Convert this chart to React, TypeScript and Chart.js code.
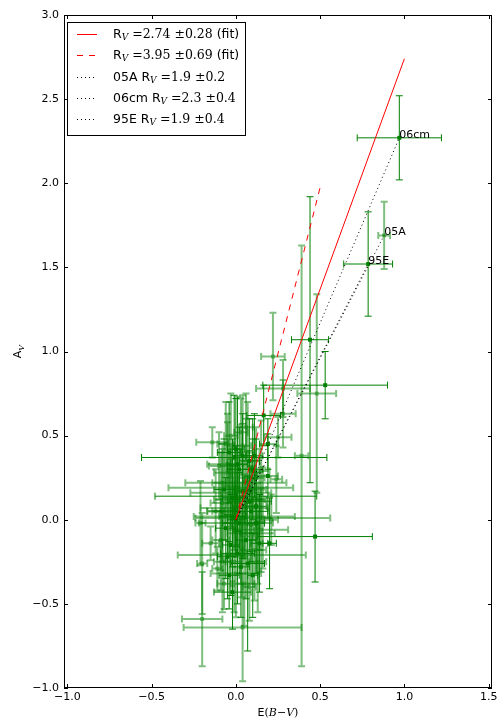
import React, { useEffect, useRef } from "react";
import { Chart, registerables } from "chart.js";
Chart.register(...registerables);

// ---- axis setup ----
const xTickValues = [-1.0, -0.5, 0.0, 0.5, 1.0, 1.5];
const yTickValues = [-1.0, -0.5, 0.0, 0.5, 1.0, 1.5, 2.0, 2.5, 3.0];
const xMin = -1.02;
const xMax = 1.52;
const yMin = -1.0;
const yMax = 3.0;

// ---- named supernovae ----
const snNames = ["06cm", "05A", "95E"];
const snEbv = [0.97, 0.88, 0.785];
const snAv = [2.27, 1.69, 1.52];
const snEbvErr = [0.25, 0.035, 0.145];
const snAvErr = [0.25, 0.2, 0.31];
const snFaded = [0, 1, 0];
const snRvText = ["2.3", "1.9", "1.9"];
const snRvErrText = ["0.4", "0.2", "0.4"];

// ---- sample: E(B-V), A_V and their errors ----
const ebv = [
  0.44, 0.22, 0.53, 0.48, 0.28, 0.39, 0.165, 0.28, 0.25, 0.19,
  -0.14, -0.01, 0.04, 0.04, 0.24, 0.19, 0.15, 0.0, -0.03, 0.0,
  -0.03, -0.08, -0.02, 0.08, 0.05, 0.16, 0.47, 0.2, -0.15, -0.21,
  0.0, 0.21, -0.2, -0.11, -0.08, 0.07, 0.0, -0.02, -0.2, 0.04,
  0.035, 0.15, 0.14, -0.05, -0.04, 0.02, 0.06, 0.1, 0.12, -0.06,
  0.03, 0.09, 0.11, -0.03, 0.05, -0.07, 0.1, -0.01, 0.03, 0.0,
  -0.05, 0.08, 0.13, -0.09, 0.01,
  -0.06, -0.04, 0.01, 0.07, 0.1, -0.08, -0.02, 0.04, 0.12, -0.1,
  0.02, 0.06, -0.09, -0.05, 0.12, 0.13, 0.03, -0.12, 0.09, -0.03,
  0.0, 0.05, -0.01, 0.08, -0.04, 0.14, 0.11, -0.07, 0.06, 0.02,
];
const av = [
  1.07, 0.97, 0.8, 0.75, 0.78, 0.38, 0.62, 0.63, 0.49, 0.45,
  0.46, 0.37, 0.44, 0.38, 0.24, 0.26, 0.29, 0.14, 0.19, 0.22,
  0.16, 0.22, 0.13, 0.11, 0.02, 0.01, -0.1, -0.14, -0.14, -0.02,
  0.0, 0.0, -0.26, -0.29, -0.25, -0.26, -0.32, -0.43, -0.59, -0.64,
  -0.21, -0.06, -0.14, 0.28, 0.05, 0.3, 0.25, 0.18, 0.08, -0.05,
  -0.08, -0.03, -0.18, -0.15, -0.38, -0.38, -0.33, 0.07, 0.52, -0.02,
  0.33, 0.35, -0.08, 0.05, -0.2,
  0.45, 0.4, 0.33, 0.4, 0.3, 0.1, 0.02, 0.17, 0.25, 0.32,
  -0.02, -0.12, -0.12, -0.22, -0.02, -0.25, -0.28, 0.05, 0.05, 0.5,
  0.42, 0.08, -0.25, -0.4, -0.33, 0.12, 0.38, 0.18, 0.55, 0.12,
];
const ebvErr = [
  0.11, 0.07, 0.37, 0.115, 0.16, 0.04, 0.1, 0.075, 0.08, 0.05,
  0.095, 0.55, 0.05, 0.06, 0.035, 0.06, 0.05, 0.48, 0.37, 0.3,
  0.24, 0.06, 0.06, 0.13, 0.3, 0.4, 0.34, 0.04, 0.05, 0.03,
  0.05, 0.04, 0.03, 0.03, 0.05, 0.1, 0.15, 0.11, 0.12, 0.35,
  0.38, 0.16, 0.05, 0.08, 0.1, 0.07, 0.05, 0.08, 0.06, 0.06,
  0.08, 0.05, 0.07, 0.05, 0.06, 0.04, 0.03, 0.2, 0.04, 0.22,
  0.12, 0.06, 0.1, 0.08, 0.1,
  0.05, 0.07, 0.06, 0.04, 0.06, 0.07, 0.08, 0.05, 0.05, 0.06,
  0.1, 0.06, 0.05, 0.06, 0.05, 0.05, 0.05, 0.05, 0.1, 0.04,
  0.05, 0.07, 0.05, 0.04, 0.06, 0.04, 0.05, 0.06, 0.04, 0.15,
];
const avErr = [
  0.85, 0.26, 0.2, 0.59, 0.17, 1.25, 0.18, 0.2, 0.12, 0.15,
  0.09, 0.37, 0.3, 0.25, 0.2, 0.25, 0.3, 0.3, 0.25, 0.2,
  0.2, 0.2, 0.35, 0.3, 0.25, 0.3, 0.27, 0.27, 0.1, 0.25,
  0.2, 0.15, 0.3, 0.13, 0.3, 0.52, 0.26, 0.22, 0.28, 0.32,
  0.25, 0.25, 0.29, 0.3, 0.25, 0.25, 0.35, 0.3, 0.4, 0.3,
  0.3, 0.35, 0.3, 0.3, 0.25, 0.15, 0.25, 0.25, 0.2, 0.2,
  0.3, 0.25, 0.3, 0.35, 0.3,
  0.25, 0.3, 0.4, 0.3, 0.3, 0.35, 0.3, 0.4, 0.3, 0.2,
  0.3, 0.35, 0.3, 0.25, 0.3, 0.3, 0.3, 0.25, 0.3, 0.25,
  0.3, 0.3, 0.3, 0.2, 0.2, 0.3, 0.25, 0.3, 0.2, 0.3,
];
const faded = [
  0, 1, 0, 1, 1, 1, 0, 1, 1, 0,
  1, 0, 1, 0, 1, 0, 1, 0, 1, 1,
  1, 1, 0, 0, 1, 1, 0, 0, 1, 1,
  0, 1, 1, 1, 1, 0, 1, 0, 1, 1,
  1, 1, 0, 1, 1, 0, 1, 1, 0, 0,
  1, 1, 1, 0, 1, 1, 0, 1, 1, 1,
  1, 0, 1, 1, 0,
  1, 0, 0, 1, 0, 1, 0, 0, 1, 1,
  0, 0, 1, 0, 0, 1, 0, 1, 0, 1,
  0, 1, 1, 1, 0, 1, 0, 0, 1, 1,
];

// ---- fit lines (endpoints) ----
const fitSolidX = [0.0, 1.0];
const fitSolidY = [0.0, 2.74];
const fitDashX = [0.0, 0.5];
const fitDashY = [0.0, 1.975];

const GREEN = "rgb(0,128,0)";
const GREEN_FADED = "rgba(0,128,0,0.5)";
const SANS = "'DejaVu Sans'";
const SERIF = "'DejaVu Serif'";

const fmt = (v: number) => (Math.abs(v) < 1e-9 ? "0.0" : v.toFixed(1).replace("-", "\u2212"));

type Seg = { t: string; f: string; dy?: number };
function drawSegs(ctx: CanvasRenderingContext2D, x: number, y: number, segs: Seg[]) {
  let cx = x;
  for (const s of segs) {
    ctx.font = s.f;
    ctx.fillText(s.t, cx, y + (s.dy || 0));
    cx += ctx.measureText(s.t).width;
  }
  return cx;
}
function segsWidth(ctx: CanvasRenderingContext2D, segs: Seg[]) {
  let w = 0;
  for (const s of segs) {
    ctx.font = s.f;
    w += ctx.measureText(s.t).width;
  }
  return w;
}

const LF = 12.5;
const rvSegs = (val: string, err: string): Seg[] => [
  { t: "R", f: `${LF}px ${SANS}` },
  { t: "V", f: `italic 9px ${SERIF}`, dy: 3 },
  { t: " =", f: `${LF}px ${SERIF}` },
  { t: val, f: `${LF}px ${SERIF}` },
  { t: " \u00b1", f: `${LF}px ${SERIF}` },
  { t: err, f: `${LF}px ${SERIF}` },
];

const errorBarPlugin = {
  id: "errbars",
  beforeDatasetsDraw(chart: any) {
    const { ctx, chartArea: a, scales } = chart;
    const xs = scales.x;
    const ys = scales.y;
    ctx.save();
    ctx.beginPath();
    ctx.rect(a.left, a.top, a.right - a.left, a.bottom - a.top);
    ctx.clip();
    const cap = 3.5;
    const drawSet = (X: number[], Y: number[], XE: number[], YE: number[], F: number[]) => {
      for (let i = 0; i < X.length; i++) {
        const px = xs.getPixelForValue(X[i]);
        const py = ys.getPixelForValue(Y[i]);
        const x0 = xs.getPixelForValue(X[i] - XE[i]);
        const x1 = xs.getPixelForValue(X[i] + XE[i]);
        const y0 = ys.getPixelForValue(Y[i] - YE[i]);
        const y1 = ys.getPixelForValue(Y[i] + YE[i]);
        ctx.strokeStyle = F[i] ? GREEN_FADED : GREEN;
        ctx.lineWidth = F[i] ? 2 : 1;
        ctx.beginPath();
        ctx.moveTo(x0, py);
        ctx.lineTo(x1, py);
        ctx.moveTo(px, y0);
        ctx.lineTo(px, y1);
        ctx.moveTo(x0, py - cap);
        ctx.lineTo(x0, py + cap);
        ctx.moveTo(x1, py - cap);
        ctx.lineTo(x1, py + cap);
        ctx.moveTo(px - cap, y0);
        ctx.lineTo(px + cap, y0);
        ctx.moveTo(px - cap, y1);
        ctx.lineTo(px + cap, y1);
        ctx.stroke();
      }
    };
    drawSet(ebv, av, ebvErr, avErr, faded);
    drawSet(snEbv, snAv, snEbvErr, snAvErr, snFaded);
    ctx.restore();
  },
  afterDraw(chart: any) {
    const { ctx, chartArea: a, scales } = chart;
    const xs = scales.x;
    const ys = scales.y;
    ctx.save();
    // SN labels
    ctx.fillStyle = "#000";
    ctx.textBaseline = "alphabetic";
    ctx.textAlign = "left";
    ctx.font = `11px ${SANS}`;
    for (let i = 0; i < snNames.length; i++) {
      ctx.fillText(snNames[i], xs.getPixelForValue(snEbv[i]), ys.getPixelForValue(snAv[i]));
    }
    // frame
    ctx.strokeStyle = "#000";
    ctx.lineWidth = 1;
    ctx.strokeRect(a.left + 0.5, a.top + 0.5, a.right - a.left - 1, a.bottom - a.top - 1);
    // inward ticks
    ctx.beginPath();
    for (const t of xs.ticks) {
      const px = Math.round(xs.getPixelForValue(t.value)) + 0.5;
      ctx.moveTo(px, a.bottom);
      ctx.lineTo(px, a.bottom - 4);
      ctx.moveTo(px, a.top);
      ctx.lineTo(px, a.top + 4);
    }
    for (const t of ys.ticks) {
      const py = Math.round(ys.getPixelForValue(t.value)) + 0.5;
      ctx.moveTo(a.left, py);
      ctx.lineTo(a.left + 4, py);
      ctx.moveTo(a.right, py);
      ctx.lineTo(a.right - 4, py);
    }
    ctx.stroke();

    // axis titles
    ctx.fillStyle = "#000";
    ctx.textBaseline = "alphabetic";
    const xt: Seg[] = [
      { t: "E", f: `11px ${SANS}` },
      { t: "(", f: `11px ${SERIF}` },
      { t: "B", f: `italic 11px ${SERIF}` },
      { t: "\u2212", f: `11px ${SERIF}` },
      { t: "V", f: `italic 11px ${SERIF}` },
      { t: ")", f: `11px ${SERIF}` },
    ];
    const xw = segsWidth(ctx, xt);
    drawSegs(ctx, (a.left + a.right) / 2 - xw / 2, 716, xt);
    const yt: Seg[] = [
      { t: "A", f: `11px ${SANS}` },
      { t: "V", f: `italic 8px ${SERIF}`, dy: 3 },
    ];
    const yw = segsWidth(ctx, yt);
    ctx.save();
    ctx.translate(21, (a.top + a.bottom) / 2);
    ctx.rotate(-Math.PI / 2);
    drawSegs(ctx, -yw / 2, 0, yt);
    ctx.restore();

    // legend
    const lx = 67.5, ly = 22.5, lw = 178, lh = 113;
    ctx.fillStyle = "#fff";
    ctx.fillRect(lx, ly, lw, lh);
    ctx.strokeStyle = "#000";
    ctx.lineWidth = 1;
    ctx.strokeRect(lx, ly, lw, lh);
    const rowY = [34, 55, 77, 98, 119];
    const sampleX0 = 77, sampleX1 = 97, textX = 113;
    const samples = [
      { c: "#ff0000", d: [] as number[] },
      { c: "#ff0000", d: [6, 6] },
      { c: "#000", d: [1, 3] },
      { c: "#000", d: [1, 3] },
      { c: "#000", d: [1, 3] },
    ];
    samples.forEach((s, i) => {
      ctx.strokeStyle = s.c;
      ctx.setLineDash(s.d);
      ctx.beginPath();
      ctx.moveTo(sampleX0, rowY[i] + 0.5);
      ctx.lineTo(sampleX1, rowY[i] + 0.5);
      ctx.stroke();
    });
    ctx.setLineDash([]);
    ctx.fillStyle = "#000";
    ctx.textBaseline = "middle";
    const rows: Seg[][] = [
      [...rvSegs("2.74", "0.28"), { t: " (fit)", f: `${LF}px ${SANS}` }],
      [...rvSegs("3.95", "0.69"), { t: " (fit)", f: `${LF}px ${SANS}` }],
      [{ t: "05A ", f: `${LF}px ${SANS}` }, ...rvSegs(snRvText[1], snRvErrText[1])],
      [{ t: "06cm ", f: `${LF}px ${SANS}` }, ...rvSegs(snRvText[0], snRvErrText[0])],
      [{ t: "95E ", f: `${LF}px ${SANS}` }, ...rvSegs(snRvText[2], snRvErrText[2])],
    ];
    rows.forEach((r, i) => drawSegs(ctx, textX, rowY[i] + 1, r));
    ctx.restore();
  },
};

export default function App() {
  const ref = useRef<HTMLCanvasElement | null>(null);
  useEffect(() => {
    document.body.style.margin = "0";
    const canvas = ref.current;
    if (!canvas) return;
    const pts = (X: number[], Y: number[], F: number[], want: number) =>
      X.map((x, i) => ({ x, y: Y[i], f: F[i] })).filter((p) => p.f === want).map((p) => ({ x: p.x, y: p.y }));
    const linePts = (X: number[], Y: number[]) => X.map((x, i) => ({ x, y: Y[i] }));
    const lineDs = (data: any[], color: string, dash: number[]) => ({
      type: "line" as const,
      data,
      borderColor: color,
      borderWidth: 1,
      borderDash: dash,
      pointRadius: 0,
      fill: false,
      tension: 0,
    });
    const scatterDs = (data: any[], color: string) => ({
      type: "scatter" as const,
      data,
      backgroundColor: color,
      borderWidth: 0,
      pointStyle: "rect",
      pointRadius: 2.8,
    });
    const chart = new Chart(canvas, {
      type: "scatter",
      data: {
        datasets: [
          lineDs(linePts(fitSolidX, fitSolidY), "#ff0000", []),
          lineDs(linePts(fitDashX, fitDashY), "#ff0000", [6, 6]),
          lineDs(linePts([0, snEbv[1]], [0, snAv[1]]), "#000", [1, 3]),
          lineDs(linePts([0, snEbv[0]], [0, snAv[0]]), "#000", [1, 3]),
          lineDs(linePts([0, snEbv[2]], [0, snAv[2]]), "#000", [1, 3]),
          scatterDs(pts(ebv, av, faded, 0), GREEN),
          scatterDs(pts(snEbv, snAv, snFaded, 0), GREEN),
          scatterDs(pts(ebv, av, faded, 1), GREEN_FADED),
          scatterDs(pts(snEbv, snAv, snFaded, 1), GREEN_FADED),
        ] as any,
      },
      options: {
        animation: false,
        responsive: false,
        maintainAspectRatio: false,
        layout: { padding: { left: 0, right: 5, top: 15, bottom: 0 } },
        plugins: { legend: { display: false }, tooltip: { enabled: false } },
        scales: {
          x: {
            type: "linear",
            min: xMin,
            max: xMax,
            afterBuildTicks: (s: any) => {
              s.ticks = xTickValues.map((v) => ({ value: v }));
            },
            afterFit: (s: any) => {
              s.height = 32;
              s.paddingLeft = 0;
              s.paddingRight = 0;
            },
            ticks: {
              callback: (v: any) => fmt(Number(v)),
              font: { family: "DejaVu Sans", size: 11 },
              color: "#000",
              padding: 3,
              maxRotation: 0,
              autoSkip: false,
            },
            grid: { display: false, drawTicks: false },
            border: { display: false },
          },
          y: {
            type: "linear",
            min: yMin,
            max: yMax,
            afterBuildTicks: (s: any) => {
              s.ticks = yTickValues.map((v) => ({ value: v }));
            },
            afterFit: (s: any) => {
              s.width = 64;
              s.paddingTop = 0;
              s.paddingBottom = 0;
            },
            ticks: {
              callback: (v: any) => fmt(Number(v)),
              font: { family: "DejaVu Sans", size: 11 },
              color: "#000",
              padding: 5,
              autoSkip: false,
            },
            grid: { display: false, drawTicks: false },
            border: { display: false },
          },
        },
      },
      plugins: [errorBarPlugin],
    } as any);
    return () => chart.destroy();
  }, []);
  return (
    <div style={{ width: 497, height: 720, position: "relative" }}>
      <canvas ref={ref} width={497} height={720} style={{ display: "block", width: 497, height: 720 }} />
    </div>
  );
}
